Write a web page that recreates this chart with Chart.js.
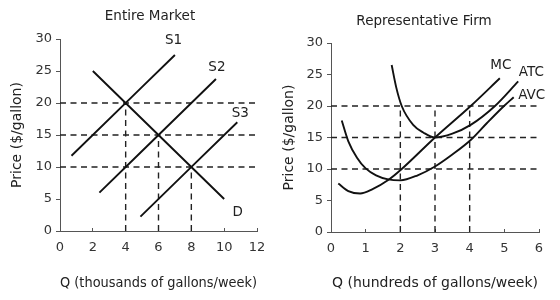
<!DOCTYPE html>
<html>
<head>
<meta charset="utf-8">
<script src="https://cdn.jsdelivr.net/npm/chart.js@4.4.0/dist/chart.umd.min.js"></script>
<style>
  body { margin: 0; background: #fff; }
  #wrap { position: relative; width: 560px; height: 300px; }
  .panel { position: absolute; top: 0; width: 280px; height: 300px; }
</style>
</head>
<body>
<div id="wrap">
  <div class="panel" style="left:0"><canvas id="market" width="280" height="300"></canvas></div>
  <div class="panel" style="left:280px"><canvas id="firm" width="280" height="300"></canvas></div>
</div>
<script>
// tick labels
const priceTicks = [0, 5, 10, 15, 20, 25, 30];
const marketQTicks = [0, 2, 4, 6, 8, 10, 12];
const firmQTicks = [0, 1, 2, 3, 4, 5, 6];

// Entire Market: supply and demand lines
const s1Q = [0.7, 7.0];
const s1P = [11.75, 27.5];
const s2Q = [2.4, 9.5];
const s2P = [6.0, 23.75];
const s3Q = [4.9, 10.8];
const s3P = [2.25, 17.0];
const dQ = [2.0, 10.0];
const dP = [25.0, 5.0];

// equilibria (dashed guides)
const marketLevels = [20, 15, 10];
const marketEqQ = [4, 6, 8];

const marketNames = ["S1", "S2", "S3", "D"];
const marketNameQ = [6.92, 9.56, 10.98, 10.83];
const marketNameP = [29.7, 25.5, 18.4, 2.9];

// Representative Firm: cost curves
const mcQ = [0.21, 0.5, 0.84, 1.2, 1.65, 2.04, 3.0, 4.03, 4.87];
const mcP = [7.7, 6.5, 6.1, 6.8, 8.25, 10.0, 15.0, 20.0, 24.4];
const atcQ = [1.75, 1.88, 2.04, 2.37, 2.66, 3.0, 3.5, 4.03, 4.73, 5.4];
const atcP = [26.5, 23.0, 20.0, 17.0, 15.8, 15.0, 15.6, 17.0, 20.0, 23.9];
const avcQ = [0.31, 0.5, 0.75, 1.0, 1.3, 1.65, 2.0, 2.5, 3.0, 3.5, 4.03, 4.5, 4.99, 5.27];
const avcP = [17.7, 14.4, 11.8, 10.1, 9.0, 8.35, 8.2, 9.0, 10.4, 12.3, 14.6, 17.3, 20.0, 21.4];

const firmLevels = [20, 15, 10];
const firmEqQ = [2, 3, 4];
const firmEqTop = [20, 20, 20];

const firmNames = ["MC", "ATC", "AVC"];
const firmNameQ = [4.9, 5.78, 5.79];
const firmNameP = [26.4, 25.3, 21.7];

Chart.defaults.font.family = "'DejaVu Sans', sans-serif";
Chart.defaults.color = "#333";

const pts = (xs, ys) => xs.map((x, i) => ({ x: x, y: ys[i] }));

function curve(xs, ys) {
    return {
        data: pts(xs, ys),
        showLine: true,
        borderColor: "#111",
        borderWidth: 1.9,
        pointRadius: 0,
        cubicInterpolationMode: "monotone",
        fill: false
    };
}

function dashed(xs, ys) {
    return {
        data: pts(xs, ys),
        showLine: true,
        borderColor: "#222",
        borderWidth: 1.4,
        borderDash: [6, 4.5],
        pointRadius: 0,
        fill: false
    };
}

function guides(levels, eqQ, tops, qMax) {
    let list = [];
    levels.forEach(l => list.push(dashed([0, qMax], [l, l])));
    eqQ.forEach((q, i) => list.push(dashed([q, q], [0, tops[i]])));
    return list;
}

const textMarks = {
    id: "textMarks",
    afterDraw(chart, args, opts) {
        const ctx = chart.ctx;
        ctx.save();
        ctx.fillStyle = "#222";
        ctx.textAlign = "center";
        ctx.textBaseline = "middle";
        ctx.font = "13.5px 'DejaVu Sans'";
        ctx.fillText(opts.title, opts.titleX, opts.titleY);
        opts.names.forEach((n, i) => {
            ctx.fillText(n, chart.scales.x.getPixelForValue(opts.xs[i]), chart.scales.y.getPixelForValue(opts.ys[i]));
        });
        ctx.restore();
    }
};

function makeChart(id, cfg) {
    return new Chart(document.getElementById(id), {
        type: "scatter",
        data: { datasets: cfg.datasets },
        options: {
            responsive: false,
            animation: false,
            layout: { padding: cfg.padding },
            plugins: {
                legend: { display: false },
                tooltip: { enabled: false },
                textMarks: cfg.text
            },
            scales: {
                x: {
                    type: "linear",
                    min: cfg.qTicks[0],
                    max: cfg.qTicks[cfg.qTicks.length - 1],
                    afterBuildTicks: s => { s.ticks = cfg.qTicks.map(v => ({ value: v })); },
                    afterFit: s => { s.height = cfg.xHeight; },
                    ticks: { font: { size: 13 }, padding: 12, color: "#333" },
                    grid: { drawOnChartArea: false, tickLength: -3, color: "#555" },
                    border: { color: "#555", width: 1 },
                    title: {
                        display: true,
                        text: cfg.xTitle,
                        color: "#222",
                        font: { size: 14 },
                        padding: { top: 0, bottom: 8 }
                    }
                },
                y: {
                    type: "linear",
                    min: 0,
                    max: 30,
                    afterBuildTicks: s => { s.ticks = priceTicks.map(v => ({ value: v })); },
                    afterFit: s => { s.width = cfg.yWidth; },
                    ticks: { font: { size: 13 }, padding: 4, color: "#333" },
                    grid: { drawOnChartArea: false, tickLength: 4, color: "#555" },
                    border: { color: "#555", width: 1 },
                    title: {
                        display: true,
                        text: "Price ($/gallon)",
                        color: "#222",
                        font: { size: 14 },
                        padding: { top: cfg.yTitlePad, bottom: 0 }
                    }
                }
            }
        },
        plugins: [textMarks]
    });
}

makeChart("market", {
    datasets: [curve(s1Q, s1P), curve(s2Q, s2P), curve(s3Q, s3P), curve(dQ, dP)]
        .concat(guides(marketLevels, marketEqQ, marketLevels, 12)),
    padding: { top: 39, right: 23, left: 0, bottom: 0 },
    qTicks: marketQTicks,
    xHeight: 69,
    yWidth: 60,
    yTitlePad: 9,
    xTitle: "Q (thousands of gallons/week)",
    text: { title: "Entire Market", titleX: 150, titleY: 16, names: marketNames, xs: marketNameQ, ys: marketNameP }
});

makeChart("firm", {
    datasets: [curve(mcQ, mcP), curve(atcQ, atcP), curve(avcQ, avcP)]
        .concat(guides(firmLevels, firmEqQ, firmEqTop, 6)),
    padding: { top: 43, right: 21, left: 0, bottom: 0 },
    qTicks: firmQTicks,
    xHeight: 68,
    yWidth: 51,
    yTitlePad: 1,
    xTitle: "Q (hundreds of gallons/week)",
    text: { title: "Representative Firm", titleX: 144, titleY: 21, names: firmNames, xs: firmNameQ, ys: firmNameP }
});
</script>
</body>
</html>
